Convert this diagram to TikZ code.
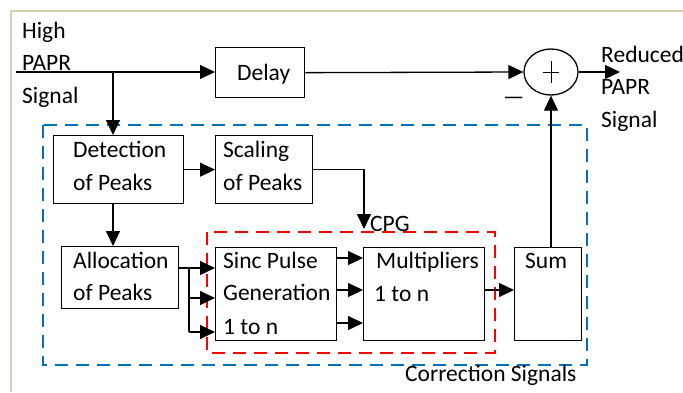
\documentclass[tikz,border=0pt]{standalone}
\usepackage{fontspec}
\setmainfont{Carlito}
\usetikzlibrary{arrows.meta,shapes.geometric,calc}
\definecolor{frametan}{RGB}{214,206,178}
\definecolor{cblue}{RGB}{0,112,192}
\definecolor{cred}{RGB}{255,0,0}
\begin{document}
\begin{tikzpicture}[x=1pt,y=-1pt,
  box/.style={draw,line width=1.3pt,inner sep=0pt,anchor=north west},
  txt/.style={anchor=base west,inner sep=0pt,font=\fontsize{23.5}{26}\selectfont},
  arr/.style={line width=1.3pt,-{Triangle[length=15pt,width=14pt]}},
  ln/.style={line width=1.3pt},
  bluedash/.style={cblue,line width=1.8pt,dash pattern=on 13pt off 8pt},
  reddash/.style={cred,line width=1.6pt,dash pattern=on 13pt off 8pt}]
\useasboundingbox (0,0) rectangle (683,392);
% outer frame
\draw[frametan,line width=1.5pt] (11,392) -- (11,11) -- (683,11);
% dashed groups
\draw[bluedash] (43,125) rectangle (587,365);
\draw[reddash] (207,232) rectangle (495,353);
% boxes
\node[box,minimum width=89pt,minimum height=50pt] (delay) at (215,47) {};
\node[box,minimum width=130pt,minimum height=68pt] (det) at (53,135) {};
\node[box,minimum width=97pt,minimum height=68pt] (sc) at (215,135) {};
\node[box,minimum width=117pt,minimum height=62pt] (alloc) at (61,246) {};
\node[box,minimum width=121pt,minimum height=93pt] (sinc) at (215,247) {};
\node[box,minimum width=121pt,minimum height=93pt] (mult) at (363,247) {};
\node[box,minimum width=67pt,minimum height=93pt] (sum) at (514,247) {};
\node[ellipse,draw,line width=1.3pt,minimum width=54pt,minimum height=46pt,inner sep=0pt] (sumc) at (551,72) {};
\draw[line width=1pt] ($(sumc.center)+(-8,0)$) -- ($(sumc.center)+(8,0)$);
\draw[line width=1pt] ($(sumc.center)+(0,-11)$) -- ($(sumc.center)+(0,11)$);
% texts
\node[txt] (t1) at (22,38) {High};
\node[txt] (t2) at (22,70) {PAPR};
\node[txt] (t3) at (22,103) {Signal};
\node[txt] (t4) at (601,62) {Reduced};
\node[txt] (t5) at (601,94) {PAPR};
\node[txt] (t6) at (601,127) {Signal};
\node[txt] (tdelay) at (237,80) {Delay};
\node[txt] (tdet1) at (73,157) {Detection};
\node[txt] (tdet2) at (73,190) {of Peaks};
\node[txt] (tsc1) at (223,157) {Scaling};
\node[txt] (tsc2) at (223,190) {of Peaks};
\node[txt] (tal1) at (73,268) {Allocation};
\node[txt] (tal2) at (73,300) {of Peaks};
\node[txt] (tsi1) at (223,268) {Sinc Pulse};
\node[txt] (tsi2) at (223,300) {Generation};
\node[txt] (tsi3) at (223,334) {1 to n};
\node[txt] (tmu1) at (376,268) {Multipliers};
\node[txt] (tmu2) at (374,301) {1 to n};
\node[txt] (tsum) at (525,268) {Sum};
\node[txt] (tcpg) at (370,231) {CPG};
\node[txt] (tcor) at (405,381) {Correction Signals};
\node[txt] (minus) at (503,104) {—};
% connectors
\coordinate (in) at (16,72);
\coordinate (br) at (113,72);
\coordinate (out) at (620,72);
\coordinate (cpg) at (364,229);
\coordinate (j1) at (189,268);
\coordinate (j2) at (189,298);
\coordinate (j3) at (189,332);
\draw[arr] (in) -- (in -| delay.west);
\draw[arr] (br) -- (br |- det.north);
\draw[arr] (delay.east) -- (sumc.west);
\draw[arr] (sumc.east) -- (out);
\draw[arr] (det.east) -- (sc.west);
\draw[arr] (br |- det.south) -- (br |- alloc.north);
\draw[arr] (sc.east) -- (cpg |- sc.east) -- (cpg);
\draw[arr] (alloc.east |- j1) -- (j1 -| sinc.west);
\draw[ln] (j1) -- (j3);
\draw[arr] (j2) -- (j2 -| sinc.west);
\draw[arr] (j3) -- (j3 -| sinc.west);
\draw[arr] (sinc.east |- 0,258) -- (mult.west |- 0,258);
\draw[arr] (sinc.east |- 0,290) -- (mult.west |- 0,290);
\draw[arr] (sinc.east |- 0,323) -- (mult.west |- 0,323);
\draw[arr] (mult.east |- 0,290) -- (sum.west |- 0,290);
\draw[arr] (sumc.south |- sum.north) -- (sumc.south);
\end{tikzpicture}
\end{document}
